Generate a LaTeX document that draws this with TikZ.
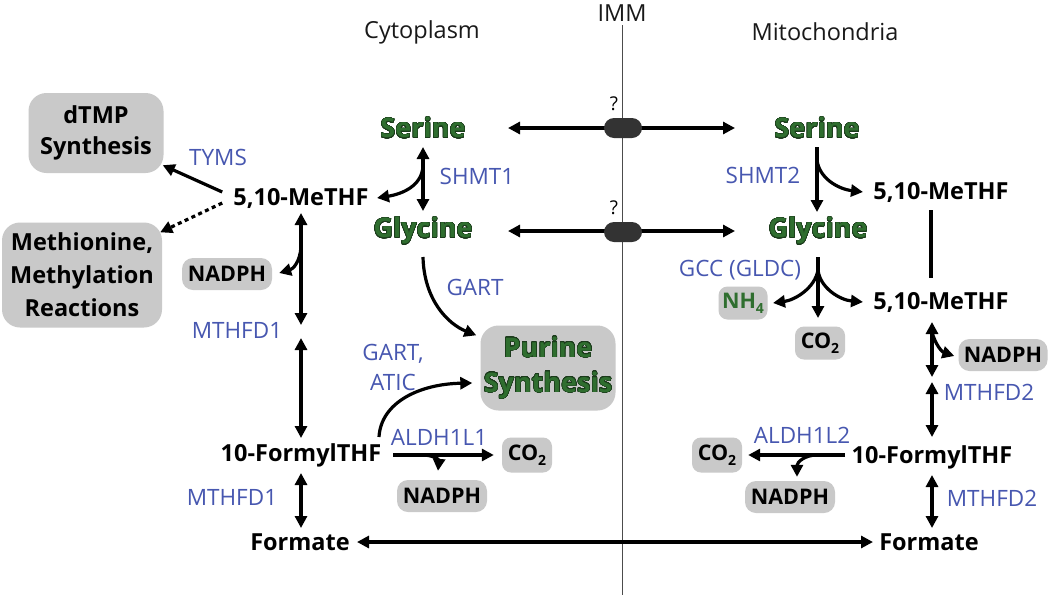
\documentclass[tikz,border=0pt]{standalone}
\usepackage{fontspec}
\setmainfont{Open Sans}
\usepackage{contour}
\contourlength{0.5pt}
\contournumber{32}
\usetikzlibrary{arrows.meta,calc}
\definecolor{enzblue}{HTML}{4757B0}
\definecolor{amgreen}{HTML}{2F6E2F}
\definecolor{amdark}{HTML}{1B3A1B}
\definecolor{boxgray}{HTML}{C9C9C9}
\definecolor{tport}{HTML}{333333}
\tikzset{
  hdr/.style={font=\fontsize{23.5}{26}\selectfont, text=black!90, inner sep=0pt},
  qm/.style={font=\fontsize{19}{21}\selectfont, inner sep=0pt},
  enz/.style={font=\fontsize{22.5}{30}\selectfont, text=enzblue, inner sep=0pt, align=center},
  met/.style={font=\bfseries\fontsize{23.5}{26}\selectfont, inner sep=0pt},
  amino/.style={font=\bfseries\fontsize{27}{30}\selectfont, text=amgreen, inner sep=0pt},
  pill/.style={fill=boxgray, rounded corners=11pt, font=\bfseries\fontsize{21.5}{24}\selectfont, inner sep=0pt},
  bigbox/.style={fill=boxgray, rounded corners=18pt, font=\bfseries\fontsize{23.5}{31}\selectfont, align=center, inner sep=0pt},
  tporter/.style={fill=tport, rounded corners=10pt, minimum width=38pt, minimum height=20pt, inner sep=0pt},
  arr/.style={line width=3.2pt, -{Triangle[length=12pt,width=12pt]}},
  dblarr/.style={line width=3.2pt, {Triangle[length=12pt,width=12pt]}-{Triangle[length=12pt,width=12pt]}},
  plainline/.style={line width=3.2pt},
  dotarr/.style={line width=3.2pt, dash pattern=on 4pt off 3.5pt, -{Triangle[length=12pt,width=12pt]}},
  membrane/.style={line width=1pt, black!70},
}
\newcommand{\sub}[1]{\raisebox{-5pt}{\fontsize{14}{14}\selectfont #1}}
\begin{document}
\begin{tikzpicture}[x=1pt,y=-1pt]
\fill[white] (0,0) rectangle (1050,595);
\useasboundingbox (0,0) rectangle (1050,595);

% headers
\node[hdr] (imm) at (622,13) {IMM};
\node[hdr] (cyto) at (422,32) {Cytoplasm};
\node[hdr] (mito) at (825,32) {Mitochondria};
\coordinate (membot) at (622,595);
\draw[membrane] (imm.south |- 0,25) -- (imm.south |- membot);

% boxes
\node[bigbox, minimum width=135pt, minimum height=80pt] (dtmp) at (96,133) {dTMP\\Synthesis};
\node[bigbox, minimum width=160pt, minimum height=105pt, font=\bfseries\fontsize{23.5}{33}\selectfont] (meth) at (82,275) {Methionine,\\Methylation\\Reactions};
\node[bigbox, minimum width=135pt, minimum height=85pt, text=amgreen, font=\bfseries\fontsize{27}{35}\selectfont] (purine) at (548,368) {\contour{amdark}{Purine}\\\contour{amdark}{Synthesis}};

% cytoplasm metabolites
\node[amino] (serL) at (423,128) {\contour{amdark}{Serine}};
\node[amino] (glyL) at (423,231) {\contour{amdark}{Glycine}};
\node[met] (metL) at (301,198) {5,10-MeTHF};
\node[met] (formL) at (301,455) {10-FormylTHF};
\node[met] (fmtL) at (300,542) {Formate};

% mitochondria metabolites
\node[amino] (serR) at (817,128) {\contour{amdark}{Serine}};
\node[amino] (glyR) at (818,231) {\contour{amdark}{Glycine}};
\node[met] (metR1) at (941,192) {5,10-MeTHF};
\node[met] (metR2) at (941,302) {5,10-MeTHF};
\node[met] (formR) at (932,457) {10-FormylTHF};
\node[met] (fmtR) at (929,542) {Formate};

% small pills
\node[pill, minimum width=90pt, minimum height=32pt] (nadL1) at (227,274) {NADPH};
\node[pill, minimum width=90pt, minimum height=32pt] (nadL2) at (442,496) {NADPH};
\node[pill, minimum width=50pt, minimum height=35pt, rounded corners=9pt] (co2L) at (527,455) {CO\sub{2}};
\node[pill, minimum width=49pt, minimum height=33pt, rounded corners=9pt, text=amgreen] (nh4) at (743,303) {NH\sub{4}};
\node[pill, minimum width=50pt, minimum height=33pt, rounded corners=9pt] (co2R1) at (820,343) {CO\sub{2}};
\node[pill, minimum width=89pt, minimum height=32pt] (nadR1) at (1003,355) {NADPH};
\node[pill, minimum width=50pt, minimum height=35pt, rounded corners=9pt] (co2R2) at (717,455) {CO\sub{2}};
\node[pill, minimum width=90pt, minimum height=32pt] (nadR2) at (790,497) {NADPH};

% enzymes
\node[enz] (tyms) at (218,157) {TYMS};
\node[enz] (shmt1) at (477,176) {SHMT1};
\node[enz] (mthfd1a) at (237,330) {MTHFD1};
\node[enz] (gart) at (475,287) {GART};
\node[enz] (gartatic) at (393,367) {GART,\\ATIC};
\node[enz] (aldh1) at (439,437) {ALDH1L1};
\node[enz] (mthfd1b) at (232,497) {MTHFD1};
\node[enz] (shmt2) at (763,175) {SHMT2};
\node[enz] (gcc) at (740,270) {GCC (GLDC)};
\node[enz] (mthfd2a) at (989,392) {MTHFD2};
\node[enz] (aldh2) at (802,435) {ALDH1L2};
\node[enz] (mthfd2b) at (992,498) {MTHFD2};

% transport across membrane
\draw[dblarr] (508,0 |- serL) -- (735,0 |- serR);
\draw[dblarr] (508,0 |- glyL) -- (735,0 |- glyR);
\node[tporter] (tp1) at (623,128) {};
\node[tporter] (tp2) at (623,232) {};
\node[qm] (q1) at (614,104) {?};
\node[qm] (q2) at (614,208) {?};

% cytoplasm reactions
\draw[dblarr] (serL |- 0,147) -- (serL |- 0,211);
\draw[arr] (serL |- 0,166) .. controls (422,186) and (402,194) .. (377,0 |- metL);
\draw[arr] ($(metL.west)+(-11,-6)$) -- ($(dtmp.south east)+(-1,-8)$);
\draw[dotarr] ($(metL.west)+(-11,5)$) -- ($(meth.north east)+(-2,10)$);
\draw[dblarr] (metL |- 0,213) -- (metL |- 0,325);
\draw[arr] (metL |- 0,247) .. controls (300,262) and (293,269) .. ($(nadL1.east)+(7,-1)$);
\draw[dblarr] (metL |- 0,338) -- (metL |- 0,438);
\draw[dblarr] (formL |- 0,473) -- (formL |- 0,528);
\draw[dblarr] (357,0 |- fmtL) -- (873,0 |- fmtR);
\draw[arr] (glyL |- 0,257) .. controls (424,300) and (448,324) .. ($(purine.north west)+(-4,10)$);
\draw[arr] ($(formL.center)+(78,-18)$) .. controls (381,402) and (420,384) .. ($(purine.west)+(-8,15)$);
\draw[arr] ($(formL.center)+(92,0)$) -- ($(co2L.west)+(-8,0)$);
\draw[arr] ($(formL.center)+(122,0)$) .. controls (433,455) and (439,460) .. ($(nadL2.north)+(-4,-9)$);

% mitochondria reactions
\draw[arr] (serR |- 0,147) -- (serR |- 0,212);
\draw[arr] (serR |- 0,160) .. controls (819,178) and (838,189) .. (863,0 |- metR1);
\draw[plainline] ($(metR1.center)+(-10,18)$) -- ($(metR2.center)+(-10,-24)$);
\draw[arr] (glyR |- 0,257) -- (glyR |- 0,318);
\draw[arr] (glyR |- 0,270) .. controls (815,288) and (795,300) .. (773,0 |- nh4);
\draw[arr] (glyR |- 0,270) .. controls (820,288) and (840,300) .. (863,0 |- metR2);
\draw[dblarr] ($(metR2.center)+(-9,20)$) -- ($(metR2.center)+(-9,75)$);
\draw[arr] ($(metR2.center)+(-9,30)$) .. controls (935,344) and (942,352) .. ($(nadR1.west)+(-4,1)$);
\draw[dblarr] (formR |- 0,382) -- (formR |- 0,437);
\draw[arr] ($(formR.center)+(-87,-2)$) -- ($(co2R2.east)+(6,0)$);
\draw[arr] ($(formR.center)+(-115,-2)$) .. controls (805,455) and (797,462) .. ($(nadR2.north)+(7,-4)$);
\draw[dblarr] (formR |- 0,475) -- (formR |- 0,528);
\end{tikzpicture}
\end{document}
